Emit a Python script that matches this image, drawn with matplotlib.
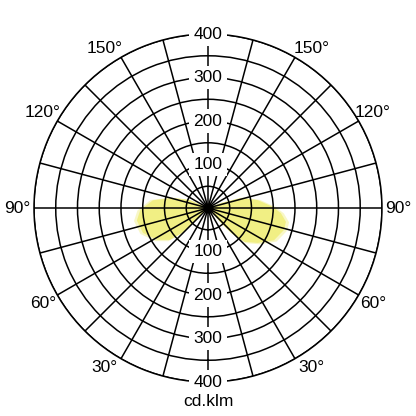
import numpy as np
import matplotlib.pyplot as plt

plt.rcParams['font.family'] = ['Liberation Sans', 'DejaVu Sans']

# light distribution, angle measured from nadir (degrees), intensity in cd/klm
right_angles = [38, 41, 43, 47, 55, 64, 74, 80, 86, 91, 99, 107, 111, 115]
right_values = [0, 46, 78, 114, 140, 169, 182, 182, 168, 149, 116, 79, 32, 0]
left_angles = [42, 45, 46, 50, 58, 69, 80, 88, 98, 106, 114, 117]
left_values = [0, 49, 81, 114, 138, 160, 166, 156, 128, 84, 45, 0]

ring_values = [100, 200, 300, 400]
angle_labels = [30, 60, 90, 120, 150]
unit = 'cd.klm'

fig = plt.figure(figsize=(4.16, 4.16), dpi=100)
ax = fig.add_axes([0.0817, 0.0817, 0.8365, 0.8365], projection='polar')
ax.set_theta_zero_location('S')
ax.set_theta_direction(1)
ax.set_ylim(0, 400)

# build the closed outline: right lobe then left lobe (mirrored)
theta = np.deg2rad(np.concatenate([right_angles, 360 - np.array(left_angles)]))
r = np.concatenate([right_values, left_values])

yellow = '#f1ef84'
ax.fill(theta, r * 1.04, color=yellow, alpha=0.45, lw=0, zorder=1)
ax.fill(theta, r, color=yellow, lw=0, zorder=1)

ax.set_thetagrids(np.arange(0, 360, 15), labels=[])
ax.set_rgrids(np.arange(50, 401, 50), labels=[])
ax.grid(True, color='black', linewidth=1.1)
ax.set_axisbelow(False)
ax.spines['polar'].set_linewidth(1.1)
ax.tick_params(length=0)
ax.scatter([0], [0], s=40, color='black', zorder=4)

for v in ring_values:
    for t in (0, 180):
        ax.text(np.deg2rad(t), v, str(v), ha='center', va='center', fontsize=12.5,
                zorder=5, bbox=dict(boxstyle='square,pad=0.25', fc='white', ec='none'))

for a in angle_labels:
    shift = {30: 3, 150: -3}.get(a, 0)
    for t in (a + shift, 360 - a - shift):
        ax.text(np.deg2rad(t), 438, f'{a}°', ha='center', va='center',
                fontsize=12.5, clip_on=False)

fig.text(0.5, 1 - 402 / 416, unit, ha='center', va='center', fontsize=12.5)

fig.savefig('out.png', dpi=100, facecolor='white')
